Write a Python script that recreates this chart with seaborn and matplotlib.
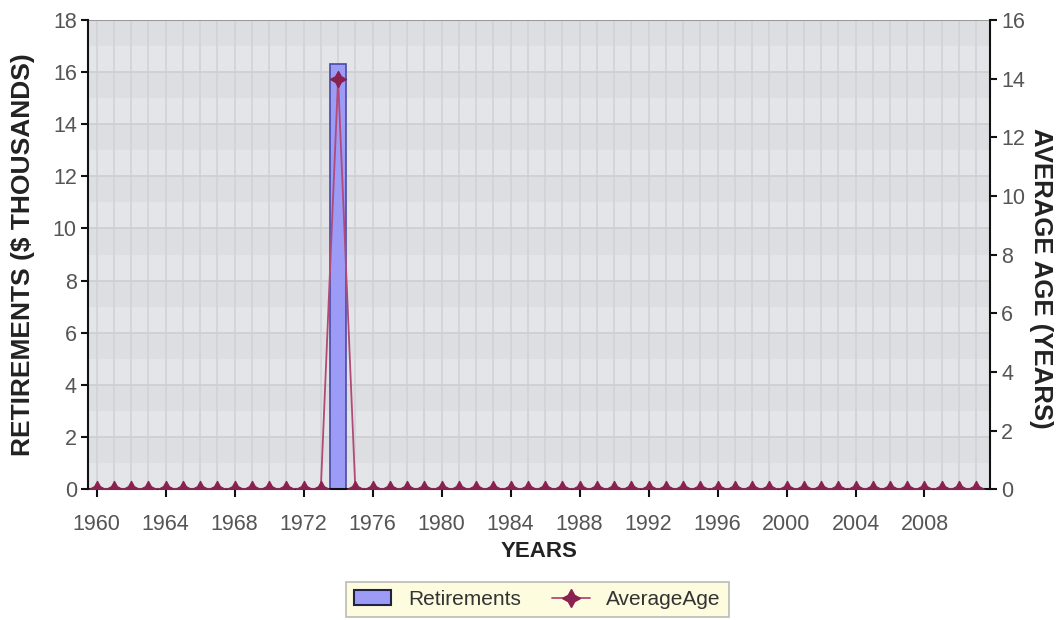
import matplotlib
matplotlib.use("Agg")
import matplotlib.pyplot as plt
import numpy as np
import pandas as pd
import seaborn as sns
from matplotlib.lines import Line2D
from matplotlib.patches import Patch

years = list(range(1960, 2012))
retirements = [0.0] * 14 + [16.3] + [0.0] * 37
average_age = [0.0] * 14 + [14.0] + [0.0] * 37

left_ticks = list(range(0, 19, 2))
right_ticks = list(range(0, 17, 2))
year_ticks = list(range(1960, 2012, 4))

df = pd.DataFrame({"year": years, "Retirements": retirements, "AverageAge": average_age})

sns.set_theme(style="white")
plt.rcParams["font.family"] = ["Liberation Sans", "DejaVu Sans"]

fig = plt.figure(figsize=(10.6, 6.2), dpi=100)
ax = fig.add_axes([0.083, 0.211, 0.851, 0.757])
ax.set_facecolor("#e3e5e9")

# alternating horizontal bands, like the original chart background
for k in range(0, 18):
    if k % 2 == 1:
        ax.axhspan(k, k + 1, color="#d9dadd", alpha=0.6, lw=0, zorder=0)
for yr in years:
    ax.axvline(yr, color="#d0d2d7", lw=1.2, zorder=0.5)
for k in left_ticks:
    ax.axhline(k, color="#cdced2", lw=1.2, zorder=0.5)

sns.barplot(data=df, x="year", y="Retirements", native_scale=True, ax=ax,
            color="#9c9cf6", edgecolor="#4a4aa8", linewidth=1.2, width=0.9,
            saturation=1, zorder=2)

ax2 = ax.twinx()
star = (4, 1, 0)
sns.lineplot(data=df, x="year", y="AverageAge", ax=ax2, color="#b24a78",
             lw=1.3, marker=star, markersize=12, markerfacecolor="#8a2150",
             markeredgecolor="#8a2150", zorder=3, legend=False)

ax.set_xlim(1959.5, 2011.8)
ax.set_ylim(0, 18)
ax2.set_ylim(0, 16)
ax.set_yticks(left_ticks)
ax2.set_yticks(right_ticks)
ax.set_xticks(year_ticks)
ax.set_xticklabels([str(y) for y in year_ticks])

for a in (ax, ax2):
    for s in a.spines.values():
        s.set_visible(False)
for s in (ax.spines["left"], ax.spines["bottom"], ax2.spines["right"]):
    s.set_visible(True)
    s.set_color("#111111")
    s.set_linewidth(1.5)
ax.axhline(18, color="#999999", lw=1.5, zorder=1)

ax.tick_params(axis="y", labelsize=15.5, labelcolor="#555555", length=5,
               width=1.5, color="#111111", direction="out", left=True, pad=3)
ax.tick_params(axis="x", labelsize=15.5, labelcolor="#555555", length=6,
               width=1.5, color="#111111", direction="out", bottom=True, pad=12)
ax2.tick_params(axis="y", labelsize=15.5, labelcolor="#555555", length=5,
                width=1.5, color="#111111", direction="out", right=True, pad=3)

ax.set_xlabel("YEARS", fontsize=16, fontweight="bold", color="#222222", labelpad=4)
ax.set_ylabel("RETIREMENTS (\\$ THOUSANDS)", fontsize=19, fontweight="bold",
              color="#222222", labelpad=13)
ax2.set_ylabel("AVERAGE AGE (YEARS)", fontsize=18.5, fontweight="bold",
               color="#222222", rotation=270, labelpad=22)
ax2.yaxis.set_label_coords(1.07, 0.45)

handles = [
    Patch(facecolor="#9c9cf6", edgecolor="#222244", linewidth=1.5, label="Retirements"),
    Line2D([0], [0], color="#b24a78", lw=1.3, marker=star, markersize=13,
           markerfacecolor="#8a2150", markeredgecolor="#8a2150", label="AverageAge"),
]
leg = fig.legend(handles=handles, loc="center", bbox_to_anchor=(0.507, 0.033),
                 ncol=2, frameon=True, fontsize=15, facecolor="#fdfcd8",
                 edgecolor="#aaaaaa", fancybox=False, handlelength=1.8,
                 columnspacing=1.5, borderpad=0.4)
leg.get_frame().set_linewidth(1.2)
for t in leg.get_texts():
    t.set_color("#333333")

fig.savefig("out.png", dpi=100)
